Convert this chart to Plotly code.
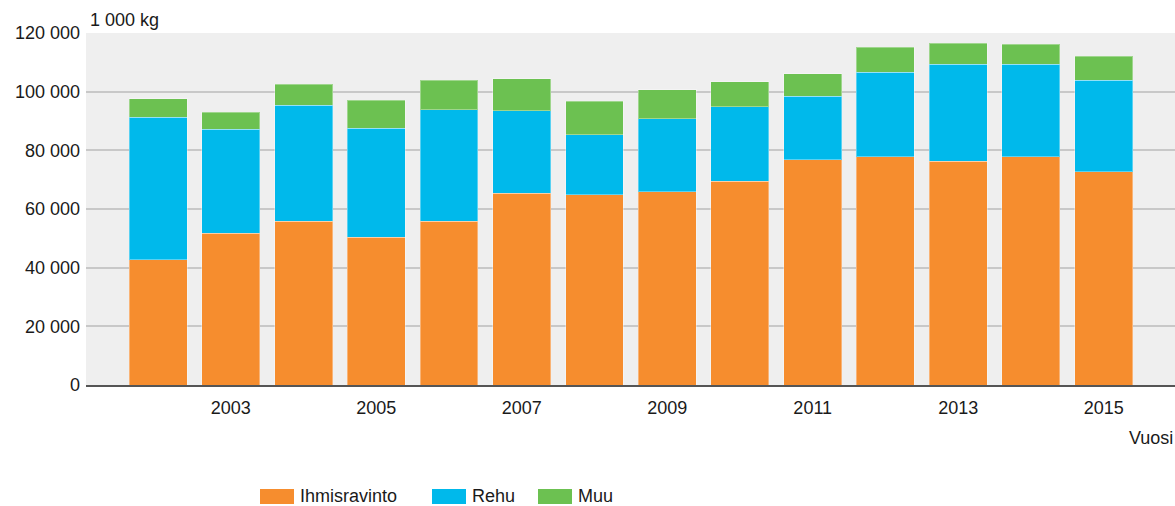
import plotly.graph_objects as go

# Vuodet ja sarjat (1 000 kg)
years = list(range(2002, 2016))
ihmisravinto = [42700, 51760, 55860, 50390, 55860, 65440, 64860,
                65880, 69410, 76720, 77750, 76240, 77750, 72620]
rehu = [48550, 35430, 39430, 37140, 38060, 28140, 20410,
        24860, 25430, 21640, 28820, 33070, 31560, 31210]
muu = [6390, 5810, 7180, 9570, 10020, 10830, 11390,
       9910, 8550, 7770, 8550, 7280, 6830, 8210]

x_ticks = [2003, 2005, 2007, 2009, 2011, 2013, 2015]
y_ticks = [0, 20000, 40000, 60000, 80000, 100000, 120000]

FONT = "Liberation Sans, Arial, sans-serif"
W, H = 1175, 506
M = dict(l=86, r=0, t=33, b=121)

series = [
    ("Ihmisravinto", ihmisravinto, "#f68d2e"),
    ("Rehu", rehu, "#00b9eb"),
    ("Muu", muu, "#6cc151"),
]

fig = go.Figure()
for name, vals, color in series:
    fig.add_trace(go.Bar(
        x=years,
        y=vals,
        name=name,
        width=0.797,
        showlegend=False,
        marker=dict(color=color, line=dict(color="rgba(255,255,255,0.35)", width=1)),
    ))

# legend drawn as wide swatches like the original (pixel positions -> paper coords)
pw = W - M["l"] - M["r"]
ph = H - M["t"] - M["b"]
def px_x(v):
    return (v - M["l"]) / pw
def px_y(v):
    return (H - M["b"] - v) / ph

shapes = []
annotations = []
legend_pos = [260, 432, 538]
for (name, _, color), lx in zip(series, legend_pos):
    shapes.append(dict(type="rect", xref="paper", yref="paper",
                       x0=px_x(lx), x1=px_x(lx + 34), y0=px_y(504), y1=px_y(489),
                       fillcolor=color, line=dict(width=0)))
    annotations.append(dict(text=name, xref="paper", yref="paper",
                            x=px_x(lx + 38), y=px_y(496), xanchor="left", yanchor="middle",
                            showarrow=False, font=dict(size=18)))

annotations += [
    dict(text="1 000 kg", xref="paper", yref="paper", x=px_x(88), y=px_y(20),
         xanchor="left", yanchor="middle", showarrow=False, font=dict(size=18)),
    dict(text="Vuosi", xref="paper", yref="paper", x=1.0, y=px_y(438),
         xanchor="right", yanchor="middle", showarrow=False, font=dict(size=18)),
]

fig.update_layout(
    barmode="stack",
    width=W,
    height=H,
    margin=M,
    paper_bgcolor="white",
    plot_bgcolor="#efefef",
    separators=", ",
    font=dict(family=FONT, size=18, color="#1a1a1a"),
    showlegend=False,
    xaxis=dict(
        range=[2001.01, 2015.98],
        tickvals=x_ticks,
        ticks="",
        ticklabelstandoff=5,
        showgrid=False,
        showline=True,
        linecolor="#555",
        linewidth=2,
        zeroline=False,
        fixedrange=True,
    ),
    yaxis=dict(
        range=[0, 120000],
        tickvals=y_ticks,
        tickformat=",d",
        ticks="",
        ticklabelstandoff=5,
        gridcolor="#c8c8c8",
        gridwidth=1.5,
        zeroline=False,
        showline=False,
    ),
    shapes=shapes,
    annotations=annotations,
)

fig.write_html(
    "out.html",
    config={"displayModeBar": False},
    post_script="document.body.style.margin='0';document.body.style.overflow='hidden';",
)
